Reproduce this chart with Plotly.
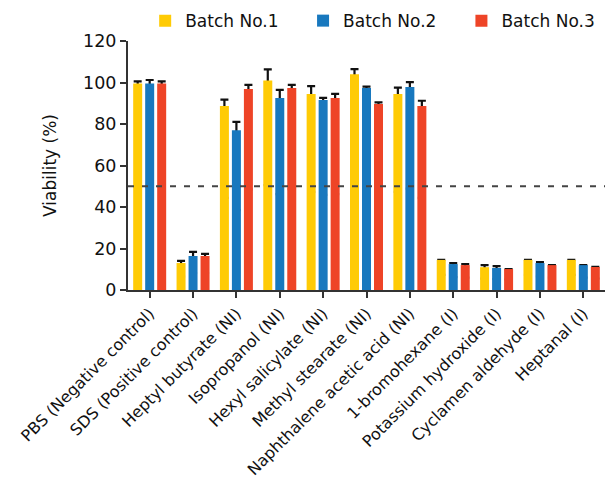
import plotly.graph_objects as go

categories = [
    "PBS (Negative control)",
    "SDS (Positive control)",
    "Heptyl butyrate (NI)",
    "Isopropanol (NI)",
    "Hexyl salicylate (NI)",
    "Methyl stearate (NI)",
    "Naphthalene acetic acid (NI)",
    "1-bromohexane (I)",
    "Potassium hydroxide (I)",
    "Cyclamen aldehyde (I)",
    "Heptanal (I)",
]

batch1 = [99.5, 13.0, 88.7, 101.0, 94.5, 104.0, 94.5, 14.5, 11.0, 14.5, 14.5]
batch2 = [99.5, 16.4, 77.0, 92.5, 91.6, 97.3, 97.8, 12.5, 10.6, 13.0, 12.0]
batch3 = [99.5, 16.4, 96.9, 97.3, 92.5, 89.6, 88.7, 12.0, 10.1, 12.0, 11.1]

err1 = [1.0, 1.0, 3.0, 5.3, 3.8, 2.4, 3.0, 0.0, 1.0, 0.0, 0.0]
err2 = [1.7, 2.0, 4.0, 3.9, 1.0, 0.7, 2.4, 0.5, 0.9, 0.5, 0.0]
err3 = [1.0, 1.0, 2.0, 1.6, 2.0, 0.8, 2.5, 0.5, 0.0, 0.0, 0.0]

series_names = ["Batch No.1", "Batch No.2", "Batch No.3"]
colors = ["#FFCB05", "#1878BE", "#EE4427"]
threshold = 50
y_ticks = [0, 20, 40, 60, 80, 100, 120]

FONT = "DejaVu Sans"
TEXT = "#111111"

values = [batch1, batch2, batch3]
errors = [err1, err2, err3]
legend_ids = ["legend", "legend2", "legend3"]
legend_x = [0.036, 0.367, 0.699]

fig = go.Figure()

# Transparent carrier bars hold the error bars; the coloured bars drawn
# afterwards in the same offset group hide the lower half of each whisker,
# so only the upper whisker and cap remain visible.
for k, (vals, errs) in enumerate(zip(values, errors)):
    fig.add_trace(go.Bar(
        x=categories, y=vals, offsetgroup=str(k), showlegend=False,
        hoverinfo="skip", marker=dict(color="rgba(0,0,0,0)", line_width=0),
        error_y=dict(type="data", array=errs,
                     arrayminus=[v * 0.5 for v in vals], symmetric=False,
                     color="#111111", thickness=2.2, width=4),
    ))

for k, (name, vals, col) in enumerate(zip(series_names, values, colors)):
    fig.add_trace(go.Bar(
        x=categories, y=vals, name=name, offsetgroup=str(k),
        marker=dict(color=col, line_width=0), legend=legend_ids[k],
    ))

# dashed reference line at the viability threshold
fig.add_shape(type="line", xref="paper", yref="y", x0=0, x1=1,
              y0=threshold, y1=threshold,
              line=dict(color="#444444", width=2, dash="6px,8px"))

legend_style = dict(orientation="h", xanchor="left", y=1.08, yanchor="middle",
                    font=dict(family=FONT, size=17, color=TEXT),
                    bgcolor="rgba(0,0,0,0)", itemclick=False)

fig.update_layout(
    width=606, height=478,
    margin=dict(l=128, r=1, t=41, b=188),
    paper_bgcolor="white", plot_bgcolor="white",
    barmode="group", bargap=0.17, bargroupgap=0.25,
    font=dict(family=FONT, size=16, color=TEXT),
    showlegend=True,
    legend=dict(x=legend_x[0], **legend_style),
    legend2=dict(x=legend_x[1], **legend_style),
    legend3=dict(x=legend_x[2], **legend_style),
)
fig.update_xaxes(
    range=[-0.5, len(categories) - 0.5], automargin=False,
    showline=True, linecolor="#333333", linewidth=2,
    ticks="outside", ticklen=6, tickwidth=2, tickcolor="#333333",
    tickangle=-45, tickfont=dict(family=FONT, size=16, color=TEXT),
    showgrid=False, zeroline=False,
)
fig.update_yaxes(
    range=[0, 120], tickvals=y_ticks, automargin=False,
    showline=True, linecolor="#333333", linewidth=2,
    ticks="outside", ticklen=6, tickwidth=2, tickcolor="#333333",
    tickfont=dict(family=FONT, size=17.5, color=TEXT),
    title=dict(text="Viability (%)", font=dict(family=FONT, size=17, color=TEXT),
               standoff=22),
    showgrid=False, zeroline=False,
)

fig.write_html("out.html")
